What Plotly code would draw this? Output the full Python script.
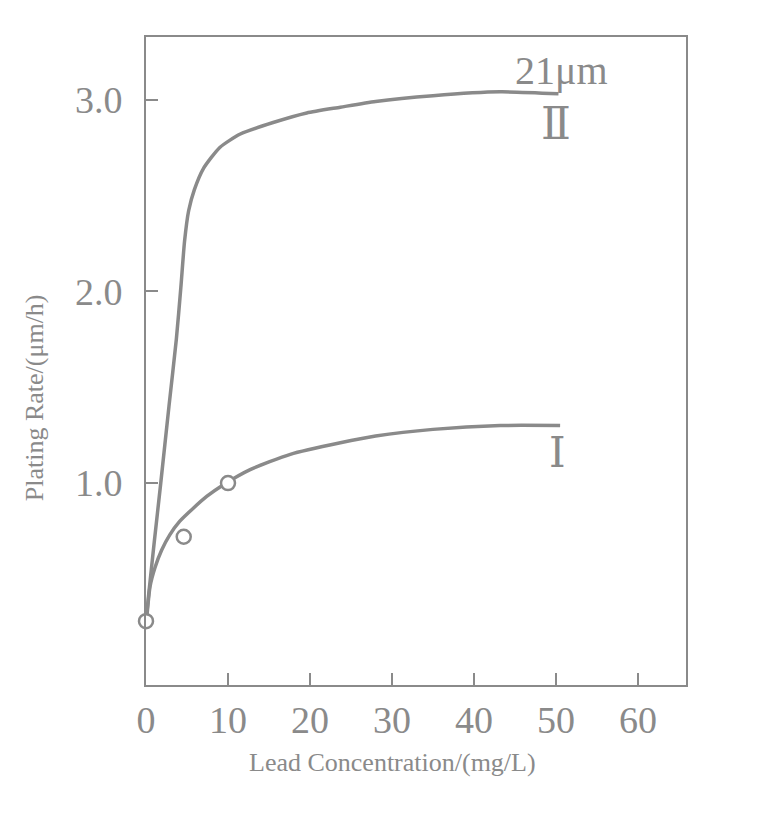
import plotly.graph_objects as go

# Curve II (21 µm)
conc_ii = [0.1, 0.28, 1.0, 1.8, 2.8, 3.7, 4.25, 4.7, 5.2, 5.9, 7.0, 9.0, 11.5, 15.5, 19.6, 23.7, 28.0, 35.0, 43.2, 50.3]
rate_ii = [0.32, 0.40, 0.69, 1.00, 1.40, 1.75, 2.02, 2.26, 2.42, 2.53, 2.64, 2.75, 2.82, 2.88, 2.93, 2.96, 2.99, 3.02, 3.04, 3.03]

# Curve I
conc_i = [0.1, 0.49, 1.1, 1.9, 2.9, 4.1, 5.8, 7.4, 9.4, 12.7, 17.6, 23.7, 28.0, 35.0, 43.2, 50.5]
rate_i = [0.30, 0.46, 0.56, 0.65, 0.73, 0.80, 0.87, 0.93, 0.99, 1.07, 1.15, 1.21, 1.245, 1.28, 1.30, 1.30]

# measured points
meas_x = [0, 4.6, 10]
meas_y = [0.28, 0.72, 1.0]

x_ticks = [0, 10, 20, 30, 40, 50, 60]
y_ticks = [1.0, 2.0, 3.0]
y_tick_text = ["1.0", "2.0", "3.0"]

GRAY = "#8a8a8a"
SERIF = "Liberation Serif, DejaVu Serif, serif"

fig = go.Figure()
for xs, ys in [(conc_ii, rate_ii), (conc_i, rate_i)]:
    fig.add_trace(go.Scatter(
        x=xs, y=ys, mode="lines",
        line={"color": GRAY, "width": 3.5, "shape": "spline", "smoothing": 0.6},
        showlegend=False, hoverinfo="skip",
    ))
fig.add_trace(go.Scatter(
    x=meas_x, y=meas_y, mode="markers",
    marker={"symbol": "circle", "size": 14, "color": "white",
            "line": {"color": GRAY, "width": 2.5}},
    showlegend=False, cliponaxis=False,
))

fig.add_annotation(x=50.7, y=3.15, text="21μm", showarrow=False,
                   font={"family": SERIF, "size": 40, "color": GRAY})
fig.add_annotation(x=50.0, y=2.87, text="Ⅱ", showarrow=False,
                   font={"family": SERIF, "size": 44, "color": GRAY})
fig.add_annotation(x=50.2, y=1.156, text="Ⅰ", showarrow=False,
                   font={"family": SERIF, "size": 42, "color": GRAY})

# axis titles placed as annotations to match the original positions
fig.add_annotation(xref="paper", yref="paper", x=0.457, y=-0.119,
                   text="Lead Concentration/(mg/L)", showarrow=False,
                   xanchor="center", yanchor="middle",
                   font={"family": SERIF, "size": 26, "color": GRAY})
fig.add_annotation(xref="paper", yref="paper", x=-0.205, y=0.443,
                   text="Plating Rate/(μm/h)", showarrow=False, textangle=-90,
                   xanchor="center", yanchor="middle",
                   font={"family": SERIF, "size": 26, "color": GRAY})

axis_common = dict(
    showline=True, linecolor=GRAY, linewidth=2, mirror=True,
    ticks="inside", ticklen=12, tickwidth=2, tickcolor=GRAY,
    showgrid=False, zeroline=False,
    tickfont={"family": SERIF, "size": 38, "color": GRAY},
)
fig.update_xaxes(range=[0, 65.85], tickvals=x_ticks, **axis_common)
fig.update_yaxes(range=[-0.053, 3.326], tickvals=y_ticks, ticktext=y_tick_text,
                 ticklabelstandoff=14, **axis_common)

fig.update_layout(
    width=760, height=814,
    margin={"l": 138, "r": 82, "t": 29, "b": 137},
    plot_bgcolor="white", paper_bgcolor="white",
)

fig.write_html("out.html")
